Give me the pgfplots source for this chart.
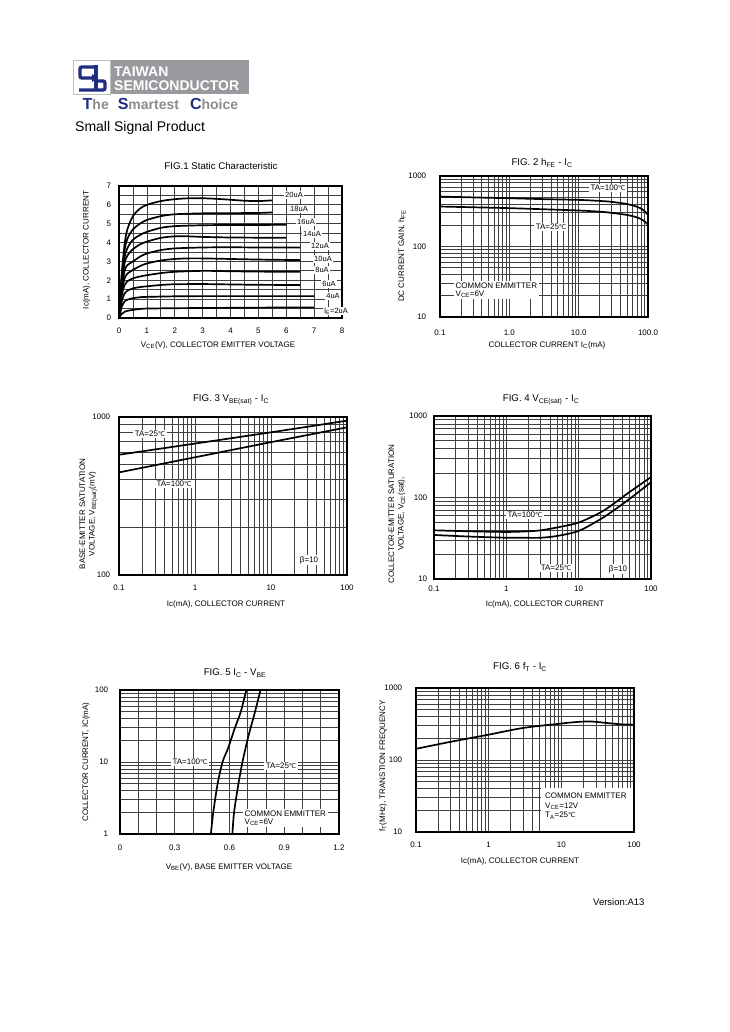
\documentclass[border=0pt]{standalone}
\usepackage{pgfplots}
\pgfplotsset{compat=1.18}
\usepackage{fontspec}
\setmainfont{Liberation Sans}
\newfontfamily\symfont{DejaVu Sans}
\definecolor{navy}{rgb}{0.12,0.18,0.5}
\definecolor{logogray}{rgb}{0.6,0.6,0.62}
\newcommand{\degC}{{\symfont\fontsize{6.5}{7}\selectfont ℃}}
\newcommand{\fs}[1]{\fontsize{#1}{#1}\selectfont}
\pgfplotsset{
  every axis/.append style={
    scale only axis, anchor=south west,
    font=\fs{8},
    tick label style={font=\fs{8}},
    axis line style={line width=1.1pt},
    grid=both,
    grid style={black!75, line width=0.75pt},
    minor grid style={black!75, line width=0.75pt},
    major tick length=0pt, minor tick length=0pt,
    /pgf/number format/assume math mode=true,
  },
  curve/.style={black, line width=1.7pt, no markers, smooth, tension=0.5},
}
\begin{document}
\begin{tikzpicture}
\fill[white] (0,0) rectangle (729pt,-1032pt);
\path[use as bounding box] (0,0) rectangle (729pt,-1032pt);

% ---------- header ----------
\fill[logogray] (110pt,-60pt) rectangle (249pt,-94pt);
\draw[black!25, line width=0.6pt, fill=white] (73pt,-60pt) rectangle (110pt,-94pt);
\draw[navy, line width=3.4pt, rounded corners=2pt] (94pt,-67pt) -- (80pt,-67pt) -- (80pt,-78pt) -- (93pt,-78pt);
\fill[navy] (92pt,-74pt) -- (98pt,-78pt) -- (92pt,-82pt) -- cycle;
\draw[navy, line width=3.4pt] (96pt,-65.5pt) -- (96pt,-90pt);
\draw[navy, line width=3.4pt, rounded corners=2pt] (96pt,-81pt) -- (105pt,-81pt) -- (105pt,-90pt) -- (79pt,-90pt);
\node[anchor=base west, white, inner sep=0pt, font=\bfseries\fs{14}] at (114pt,-77pt) {TAIWAN};
\node[anchor=base west, white, inner sep=0pt, font=\bfseries\fs{14}] at (114pt,-90.5pt) {SEMICONDUCTOR};
\node[anchor=base west, inner sep=0pt, font=\bfseries] at (82.5pt,-109.5pt)
  {{\color{navy}\fs{16}T}{\color{black!45}\fs{14}he}\hspace{9pt}{\color{navy}\fs{16}S}{\color{black!45}\fs{14}martest}\hspace{11pt}{\color{navy}\fs{16}C}{\color{black!45}\fs{14}hoice}};
\node[anchor=base west, inner sep=0pt, font=\fs{14}] at (75pt,-131.7pt) {Small Signal Product};
\node[anchor=base west, inner sep=0pt, font=\fs{9.5}] at (593pt,-905pt) {Version:A13};

% ---------- FIG 1 ----------
\begin{axis}[at={(119pt,-318pt)}, width=223pt, height=132pt,
  xticklabel style={yshift=-6pt}, yticklabel style={xshift=-4.3pt},
  xmin=0, xmax=8, ymin=0, ymax=7,
  xtick={0,...,8}, ytick={0,...,7},
  minor xtick={0.5,1.5,2.5,3.5,4.5,5.5,6.5,7.5},
  minor ytick={0.5,1.5,2.5,3.5,4.5,5.5,6.5}]
\addplot[curve] coordinates {(0,0)(0.05,1.2)(0.1,2.4)(0.2,3.9)(0.3,4.7)(0.5,5.4)(0.75,5.8)(1,6.0)(1.5,6.2)(2,6.3)(2.5,6.35)(3,6.35)(3.5,6.32)(4,6.27)(4.5,6.22)(5,6.2)(5.5,6.24)};
\addplot[curve] coordinates {(0,0)(0.05,1.1)(0.1,2.2)(0.2,3.6)(0.3,4.2)(0.5,4.7)(0.75,5.0)(1,5.2)(1.5,5.4)(2,5.5)(3,5.55)(4,5.56)(5,5.57)(5.5,5.6)};
\addplot[curve] coordinates {(0,0)(0.05,1.0)(0.1,2.0)(0.2,3.2)(0.3,3.7)(0.5,4.15)(0.75,4.4)(1,4.57)(1.5,4.78)(2,4.87)(3,4.92)(4,4.93)(5,4.93)(6,4.95)};
\addplot[curve] coordinates {(0,0)(0.05,0.9)(0.1,1.8)(0.2,2.9)(0.3,3.3)(0.5,3.65)(0.75,3.9)(1,4.05)(1.5,4.25)(2,4.33)(2.5,4.33)(3,4.3)(4,4.27)(5,4.26)(6,4.26)};
\addplot[curve] coordinates {(0,0)(0.05,0.8)(0.1,1.6)(0.2,2.5)(0.3,2.8)(0.5,3.0)(0.75,3.25)(1,3.42)(1.5,3.6)(2,3.69)(3,3.74)(4,3.75)(5,3.74)(6,3.74)(6.5,3.74)};
\addplot[curve] coordinates {(0,0)(0.05,0.7)(0.1,1.4)(0.2,2.1)(0.3,2.35)(0.5,2.55)(0.75,2.75)(1,2.89)(1.5,3.05)(2,3.13)(2.5,3.16)(3,3.16)(4,3.13)(5,3.1)(6,3.08)(6.5,3.07)};
\addplot[curve] coordinates {(0,0)(0.05,0.6)(0.1,1.2)(0.2,1.75)(0.3,1.95)(0.5,2.1)(0.75,2.2)(1,2.27)(1.5,2.38)(2,2.45)(3,2.5)(4,2.48)(5,2.46)(6.5,2.45)};
\addplot[curve] coordinates {(0,0)(0.05,0.45)(0.1,0.9)(0.2,1.3)(0.3,1.45)(0.5,1.57)(0.75,1.64)(1,1.68)(1.5,1.75)(2,1.79)(3,1.8)(4,1.78)(5,1.76)(6.5,1.75)};
\addplot[curve] coordinates {(0,0)(0.05,0.3)(0.1,0.6)(0.2,0.88)(0.3,0.97)(0.5,1.05)(0.75,1.1)(1,1.12)(2,1.15)(3,1.16)(4,1.16)(5,1.16)(7,1.16)};
\addplot[curve] coordinates {(0,0)(0.05,0.12)(0.1,0.22)(0.2,0.33)(0.3,0.38)(0.5,0.43)(0.75,0.48)(1,0.5)(2,0.52)(3,0.53)(4,0.54)(5,0.55)(7,0.56)};
\end{axis}
\begin{scope}[every node/.style={fill=white, inner sep=1.2pt, font=\fs{7.5}}]
\node at (294pt,-195pt) {20uA};
\node at (299pt,-209pt) {18uA};
\node at (306pt,-222pt) {16uA};
\node at (312pt,-234pt) {14uA};
\node at (320pt,-246pt) {12uA};
\node at (323pt,-259pt) {10uA};
\node at (322pt,-270pt) {8uA};
\node at (329pt,-284pt) {6uA};
\node at (333pt,-296pt) {4uA};
\node at (336pt,-311pt) {I\textsubscript{E}=2uA};
\end{scope}
\node[font=\fs{9.7}] at (221pt,-166.5pt) {FIG.1 Static Characteristic};
\node[font=\fs{8}] at (218pt,-345pt) {V\textsubscript{CE}(V), COLLECTOR EMITTER VOLTAGE};
\node[font=\fs{8}, rotate=90] at (86.5pt,-250pt) {Ic(mA), COLLECTOR CURRENT};

% ---------- FIG 2 ----------
\begin{axis}[at={(440pt,-317pt)}, width=208pt, height=141pt,
  xticklabel style={yshift=-9pt}, yticklabel style={xshift=-10.3pt},
  xmode=log, xmin=0.1, xmax=100, xtick={0.1,1,10,100},
  minor xtick={0.2,0.3,0.4,0.5,0.6,0.7,0.8,0.9,2,3,4,5,6,7,8,9,20,30,40,50,60,70,80,90},
  xticklabels={0.1,1.0,10.0,100.0},
  ymode=log, ymin=10, ymax=1000, ytick={10,100,1000}, yticklabels={10,100,1000},
  minor ytick={20,30,40,50,60,70,80,90,200,300,400,500,600,700,800,900}]
\addplot[curve] coordinates {(0.1,511)(0.3,497)(1,484)(3,470)(10,458)(20,443)(30,430)(50,400)(70,365)(85,330)(100,282)};
\addplot[curve] coordinates {(0.1,369)(0.3,360)(1,350)(3,338)(10,324)(20,312)(30,300)(50,280)(70,258)(85,235)(100,204)};
\end{axis}
\node[fill=white, inner sep=1.5pt, font=\fs{8}] at (608pt,-188pt) {TA=100\degC};
\node[fill=white, inner sep=1.5pt, font=\fs{8}] at (551pt,-227pt) {TA=25\degC};
\node[fill=white, inner sep=1.5pt, font=\fs{8}, align=left, anchor=north west] at (454pt,-281pt) {COMMON EMMITTER\\V\textsubscript{CE}=6V};
\node[font=\fs{9.7}] at (542pt,-163pt) {FIG. 2 h\textsubscript{FE} - I\textsubscript{C}};
\node[font=\fs{8}] at (547pt,-345pt) {COLLECTOR CURRENT I\textsubscript{C}(mA)};
\node[font=\fs{8}, rotate=90] at (402pt,-256pt) {DC CURRENT GAIN, h\textsubscript{FE}};

% ---------- FIG 3 ----------
\begin{axis}[at={(119pt,-575pt)}, width=228pt, height=158pt,
  xticklabel style={yshift=-6pt}, yticklabel style={xshift=-5.3pt},
  xmode=log, xmin=0.1, xmax=100, xtick={0.1,1,10,100},
  minor xtick={0.2,0.3,0.4,0.5,0.6,0.7,0.8,0.9,2,3,4,5,6,7,8,9,20,30,40,50,60,70,80,90},
  xticklabels={0.1,1,10,100},
  ymode=log, ymin=100, ymax=1000, ytick={100,1000}, yticklabels={100,1000},
  minor ytick={200,300,400,500,600,700,800,900}]
\addplot[curve] coordinates {(0.1,577)(1,679)(10,800)(100,948)};
\addplot[curve] coordinates {(0.1,446)(1,556)(10,693)(100,860)};
\end{axis}
\node[fill=white, inner sep=1.5pt, font=\fs{8}] at (150pt,-434pt) {TA=25\degC};
\node[fill=white, inner sep=1.5pt, font=\fs{8}] at (174pt,-484pt) {TA=100\degC};
\node[fill=white, inner sep=1.5pt, font=\fs{8}] at (309pt,-560pt) {β=10};
\node[font=\fs{9.7}] at (231pt,-400pt) {FIG. 3 V\textsubscript{BE(sat)} - I\textsubscript{C}};
\node[font=\fs{8}] at (226pt,-604pt) {Ic(mA), COLLECTOR CURRENT};
\node[font=\fontsize{8}{9.5}\selectfont, rotate=90, align=center] at (88.5pt,-514pt) {BASE-EMITTER SATUTATION\\VOLTAGE, V\textsubscript{BE(sat)}(mV)};

% ---------- FIG 4 ----------
\begin{axis}[at={(434pt,-579pt)}, width=217pt, height=163pt,
  xticklabel style={yshift=-3.6pt}, yticklabel style={xshift=-3.3pt},
  xmode=log, xmin=0.1, xmax=100, xtick={0.1,1,10,100},
  minor xtick={0.2,0.3,0.4,0.5,0.6,0.7,0.8,0.9,2,3,4,5,6,7,8,9,20,30,40,50,60,70,80,90},
  xticklabels={0.1,1,10,100},
  ymode=log, ymin=10, ymax=1000, ytick={10,100,1000}, yticklabels={10,100,1000},
  minor ytick={20,30,40,50,60,70,80,90,200,300,400,500,600,700,800,900}]
\addplot[curve] coordinates {(0.1,39.6)(0.3,38.5)(1,37.8)(2,38.5)(3,39.6)(5,42.8)(10,49.3)(20,65.5)(30,83)(50,116)(100,178)};
\addplot[curve] coordinates {(0.1,34.7)(0.3,33.2)(1,32.1)(2,32)(3,32.1)(5,33.7)(10,38.9)(20,54.2)(30,68.7)(50,95.5)(100,154)};
\end{axis}
\node[fill=white, inner sep=1.5pt, font=\fs{8}] at (525pt,-515pt) {TA=100\degC};
\node[fill=white, inner sep=1.5pt, font=\fs{8}] at (556pt,-568pt) {TA=25\degC};
\node[fill=white, inner sep=1.5pt, font=\fs{8}] at (618pt,-569pt) {β=10};
\node[font=\fs{9.7}] at (541pt,-400pt) {FIG. 4 V\textsubscript{CE(sat)} - I\textsubscript{C}};
\node[font=\fs{8}] at (545pt,-604pt) {Ic(mA), COLLECTOR CURRENT};
\node[font=\fontsize{8}{9.5}\selectfont, rotate=90, align=center] at (397pt,-514pt) {COLLECTOR-EMITTER SATURATION\\VOLTAGE, V\textsubscript{CE}(sat),};

% ---------- FIG 5 ----------
\begin{axis}[at={(120pt,-834pt)}, width=219pt, height=144pt,
  xticklabel style={yshift=-7pt}, yticklabel style={xshift=-8.3pt},
  xmin=0, xmax=1.2, xtick={0,0.3,0.6,0.9,1.2}, xticklabels={0,0.3,0.6,0.9,1.2},
  minor xtick={0.1,0.2,0.4,0.5,0.7,0.8,1.0,1.1},
  ymode=log, ymin=1, ymax=100, ytick={1,10,100}, yticklabels={1,10,100},
  minor ytick={2,3,4,5,6,7,8,9,20,30,40,50,60,70,80,90}]
\addplot[curve] coordinates {(0.498,1)(0.511,2)(0.535,5)(0.562,10)(0.59,15)(0.607,20)(0.63,30)(0.662,50)(0.692,100)};
\addplot[curve] coordinates {(0.616,1)(0.625,2)(0.649,5)(0.671,10)(0.698,20)(0.716,30)(0.74,50)(0.77,100)};
\end{axis}
\node[fill=white, inner sep=1.5pt, font=\fs{8}] at (190pt,-762pt) {TA=100\degC};
\node[fill=white, inner sep=1.5pt, font=\fs{8}] at (281pt,-766pt) {TA=25\degC};
\node[fill=white, inner sep=1.5pt, font=\fs{8}, align=left, anchor=north west] at (243pt,-809pt) {COMMON EMMITTER\\V\textsubscript{CE}=6V};
\node[font=\fs{9.7}] at (235pt,-673pt) {FIG. 5 I\textsubscript{C} - V\textsubscript{BE}};
\node[font=\fs{8}] at (229pt,-867pt) {V\textsubscript{BE}(V), BASE EMITTER VOLTAGE};
\node[font=\fs{8}, rotate=90] at (86pt,-762pt) {COLLECTOR CURRENT, IC(mA)};

% ---------- FIG 6 ----------
\begin{axis}[at={(416pt,-832pt)}, width=218pt, height=144pt,
  xticklabel style={yshift=-6.6pt}, yticklabel style={xshift=-10.3pt},
  xmode=log, xmin=0.1, xmax=100, xtick={0.1,1,10,100},
  minor xtick={0.2,0.3,0.4,0.5,0.6,0.7,0.8,0.9,2,3,4,5,6,7,8,9,20,30,40,50,60,70,80,90},
  xticklabels={0.1,1,10,100},
  ymode=log, ymin=10, ymax=1000, ytick={10,100,1000}, yticklabels={10,100,1000},
  minor ytick={20,30,40,50,60,70,80,90,200,300,400,500,600,700,800,900}]
\addplot[curve] coordinates {(0.1,143)(0.3,179)(1,225)(3,279)(10,321)(15,335)(25,343)(50,321)(70,312)(100,310)};
\end{axis}
\fill[white] (541pt,-788pt) rectangle (633pt,-831pt);
\node[inner sep=0pt, font=\fontsize{8}{9.5}\selectfont, align=left, anchor=north west] at (545pt,-793pt) {COMMON EMMITTER\\V\textsubscript{CE}=12V\\T\textsubscript{A}=25\degC};
\node[font=\fs{9.7}] at (520pt,-667pt) {FIG. 6 f\textsubscript{T} - I\textsubscript{C}};
\node[font=\fs{8}] at (520pt,-861pt) {Ic(mA), COLLECTOR CURRENT};
\node[font=\fs{8}, rotate=90] at (383pt,-766pt) {f\textsubscript{T}(MHz), TRANSTION FREQUENCY};
\end{tikzpicture}
\end{document}
